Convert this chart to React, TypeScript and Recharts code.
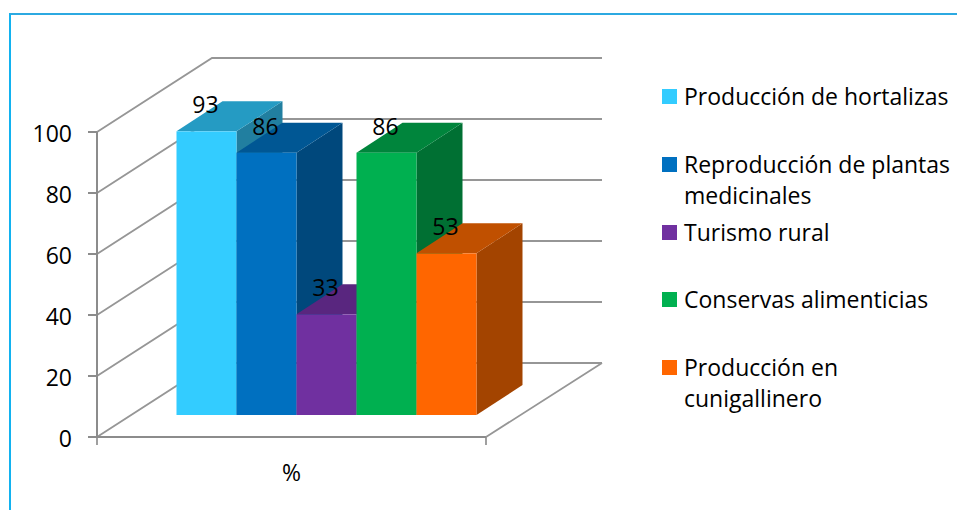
import { BarChart, Bar, XAxis, YAxis, CartesianGrid, Legend, LabelList } from "recharts";

const categories = ["%"];
const seriesNames = [
  "Producción de hortalizas",
  "Reproducción de plantas medicinales",
  "Turismo rural",
  "Conservas alimenticias",
  "Producción en cunigallinero",
];
const seriesValues = [93, 86, 33, 86, 53];
const yTicks = [0, 20, 40, 60, 80, 100];

const frontColors = ["#33CCFF", "#0070C0", "#7030A0", "#00B050", "#FF6600"];
const topColors = ["#259BC3", "#005794", "#59267F", "#00853C", "#C05000"];
const sideColors = ["#217FA0", "#00487C", "#481F68", "#007033", "#A34400"];

const chartData = categories.map((name) => {
  const row: Record<string, string | number> = { name };
  seriesNames.forEach((s, i) => {
    row[s] = seriesValues[i];
  });
  return row;
});

const FONT = "'Open Sans', sans-serif";
const WALL_DX = 115;
const WALL_DY = -74;
const BAR_DX = 35.5;
const BAR_DY = -22;
const DEPTH_X = 46;
const DEPTH_Y = -30;

// bars stand on the floor, so they are pushed back from the front axis
function Bar3D(props: any, i: number) {
  const x = props.x + BAR_DX;
  const y = props.y + BAR_DY;
  const w = props.width;
  const h = props.height;
  return (
    <g>
      <polygon
        points={`${x + w},${y} ${x + w + DEPTH_X},${y + DEPTH_Y} ${x + w + DEPTH_X},${y + h + DEPTH_Y} ${x + w},${y + h}`}
        fill={sideColors[i]}
      />
      <polygon
        points={`${x},${y} ${x + DEPTH_X},${y + DEPTH_Y} ${x + w + DEPTH_X},${y + DEPTH_Y} ${x + w},${y}`}
        fill={topColors[i]}
      />
      <rect x={x} y={y} width={w} height={h} fill={frontColors[i]} />
    </g>
  );
}

function ValueLabel(props: any) {
  const { x, y, width, value } = props;
  return (
    <text x={x + width / 2 + BAR_DX - 1} y={y + BAR_DY - 18} textAnchor="middle" fontSize={23} fontFamily={FONT} fill="#000">
      {value}
    </text>
  );
}

function WallLine(props: any) {
  const { x1, y1, x2 } = props;
  const isFloor = Math.abs(y1 - 437) < 1;
  return (
    <g fill="none" stroke="#969696">
      <path d={`M${x1},${y1} L${x1 + WALL_DX},${y1 + WALL_DY} L${x2 + WALL_DX + 1},${y1 + WALL_DY}`} strokeWidth={1.8} />
      {isFloor && (
        <path
          d={`M${x2},${y1} L${x2 + WALL_DX + 1},${y1 + WALL_DY} M${x1},${y1} V${y1 + 8} M${x2},${y1} V${y1 + 8}`}
          strokeWidth={1.8}
        />
      )}
    </g>
  );
}

function LegendList(props: any) {
  return (
    <div style={{ fontFamily: FONT, fontSize: 23, color: "#000" }}>
      {props.payload.map((item: any) => (
        <div key={item.value} style={{ height: 67.75, display: "flex", alignItems: "flex-start" }}>
          <span style={{ width: 15, height: 15, background: item.color, flexShrink: 0, marginTop: 8, marginRight: 7 }} />
          <span style={{ lineHeight: "31px" }}>{item.value}</span>
        </div>
      ))}
    </div>
  );
}

export default function App() {
  return (
    <div style={{ position: "absolute", left: 0, top: 0, width: 957, height: 510, overflow: "hidden", background: "#fff" }}>
      <div style={{ position: "absolute", left: 9, top: 13, width: 960, height: 510, borderLeft: "2px solid #12B2F0", borderTop: "2px solid #2CA9E1" }} />
      <div style={{ position: "absolute", left: 0, top: 0 }}>
        <BarChart
          width={957}
          height={510}
          data={chartData}
          margin={{ top: 132, right: 471, bottom: 43, left: 37 }}
          barCategoryGap={44}
          barGap={0}
        >
          <CartesianGrid vertical={false} horizontal={WallLine as any} />
          <XAxis
            dataKey="name"
            height={30}
            tickLine={false}
            axisLine={{ stroke: "#8C8C8C", strokeWidth: 2 }}
            tick={{ fill: "#000", fontSize: 23, fontFamily: FONT }}
            dy={20}
          />
          <YAxis
            width={60}
            domain={[0, 100]}
            ticks={yTicks}
            tickSize={9}
            tickMargin={16}
            axisLine={{ stroke: "#8C8C8C", strokeWidth: 2 }}
            tickLine={{ stroke: "#8C8C8C", strokeWidth: 2 }}
            tick={{ fill: "#000", fontSize: 23, fontFamily: FONT, dy: 2 }}
          />
          <Legend
            layout="vertical"
            align="center"
            verticalAlign="middle"
            itemSorter={null}
            content={LegendList as any}
            wrapperStyle={{ left: 662, top: 81, width: 293 }}
          />
          {seriesNames.map((s, i) => (
            <Bar key={s} dataKey={s} name={s} fill={frontColors[i]} isAnimationActive={false} shape={(p: any) => Bar3D(p, i)}>
              <LabelList dataKey={s} content={ValueLabel as any} />
            </Bar>
          ))}
        </BarChart>
      </div>
    </div>
  );
}
